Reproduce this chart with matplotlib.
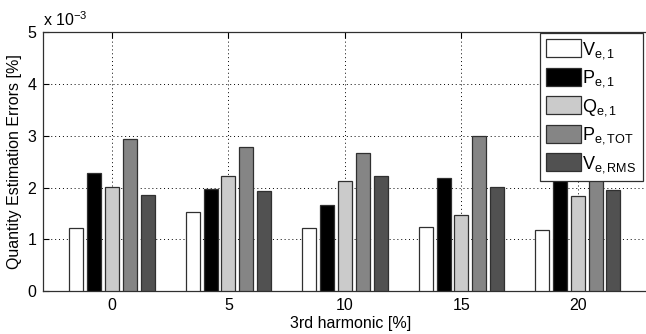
import matplotlib
matplotlib.use("Agg")
import matplotlib.pyplot as plt
import numpy as np

plt.rcParams['font.family'] = ['Liberation Sans', 'DejaVu Sans']
plt.rcParams['mathtext.fontset'] = 'custom'
plt.rcParams['mathtext.rm'] = 'Liberation Sans'
plt.rcParams['mathtext.it'] = 'Liberation Sans'

# 3rd harmonic content [%]
harmonic = [0, 5, 10, 15, 20]
tick_labels = ['0', '5', '10', '15', '20']

# estimation errors [%]
v_e1 = [1.21e-3, 1.52e-3, 1.22e-3, 1.24e-3, 1.17e-3]
p_e1 = [2.28e-3, 1.97e-3, 1.67e-3, 2.19e-3, 2.25e-3]
q_e1 = [2.01e-3, 2.23e-3, 2.12e-3, 1.47e-3, 1.83e-3]
p_etot = [2.94e-3, 2.79e-3, 2.67e-3, 2.99e-3, 2.60e-3]
v_erms = [1.85e-3, 1.94e-3, 2.22e-3, 2.01e-3, 1.95e-3]

series = [v_e1, p_e1, q_e1, p_etot, v_erms]
names = [r'V$_{\rm e,1}$', r'P$_{\rm e,1}$', r'Q$_{\rm e,1}$',
         r'P$_{\rm e,TOT}$', r'V$_{\rm e,RMS}$']
colors = ['#ffffff', '#000000', '#cbcbcb', '#858585', '#515151']

fig = plt.figure(figsize=(6.46, 3.34), dpi=100)
# the plot area runs slightly past the right edge of the canvas
ax = fig.add_axes([0.067, 0.1287, 0.95, 0.7746])

x = np.array(harmonic, dtype=float)
pitch = 0.765
width = 0.6
for i, (vals, name, col) in enumerate(zip(series, names, colors)):
    ax.bar(x + (i - 2) * pitch, vals, width=width, color=col,
           edgecolor='#303030', linewidth=0.9, label=name, zorder=3)

ax.set_xlim(-2.95, 23.4)
ax.set_ylim(0, 5e-3)
ax.set_xticks(harmonic)
ax.set_xticklabels(tick_labels)
ax.set_yticks(np.arange(0, 6) * 1e-3)
ax.set_yticklabels([str(k) for k in range(6)])
ax.tick_params(direction='in', top=True, right=True, labelsize=11.5,
               length=4, width=0.8, pad=5)
ax.grid(True, linestyle=(0, (1, 3)), color='black', linewidth=0.7, zorder=0)
for s in ax.spines.values():
    s.set_linewidth(0.9)
    s.set_color('#303030')

ax.set_xlabel('3rd harmonic [%]', fontsize=11.5, labelpad=2)
ax.set_ylabel('Quantity Estimation Errors [%]', fontsize=11.5, labelpad=4)
ax.text(0.0, 1.012, r'x 10$^{-3}$', transform=ax.transAxes, fontsize=11.5,
        ha='left', va='bottom')

leg = ax.legend(loc='upper right', bbox_to_anchor=(643 / 646, 1 - 33 / 334),
                bbox_transform=fig.transFigure, borderaxespad=0,
                fontsize=13, handlelength=1.9, handleheight=1.15,
                labelspacing=0.38, handletextpad=0.1, borderpad=0.35,
                fancybox=False, framealpha=1, edgecolor='#303030')
leg.get_frame().set_linewidth(0.9)
leg.set_zorder(5)

fig.savefig('out.png', dpi=100)
